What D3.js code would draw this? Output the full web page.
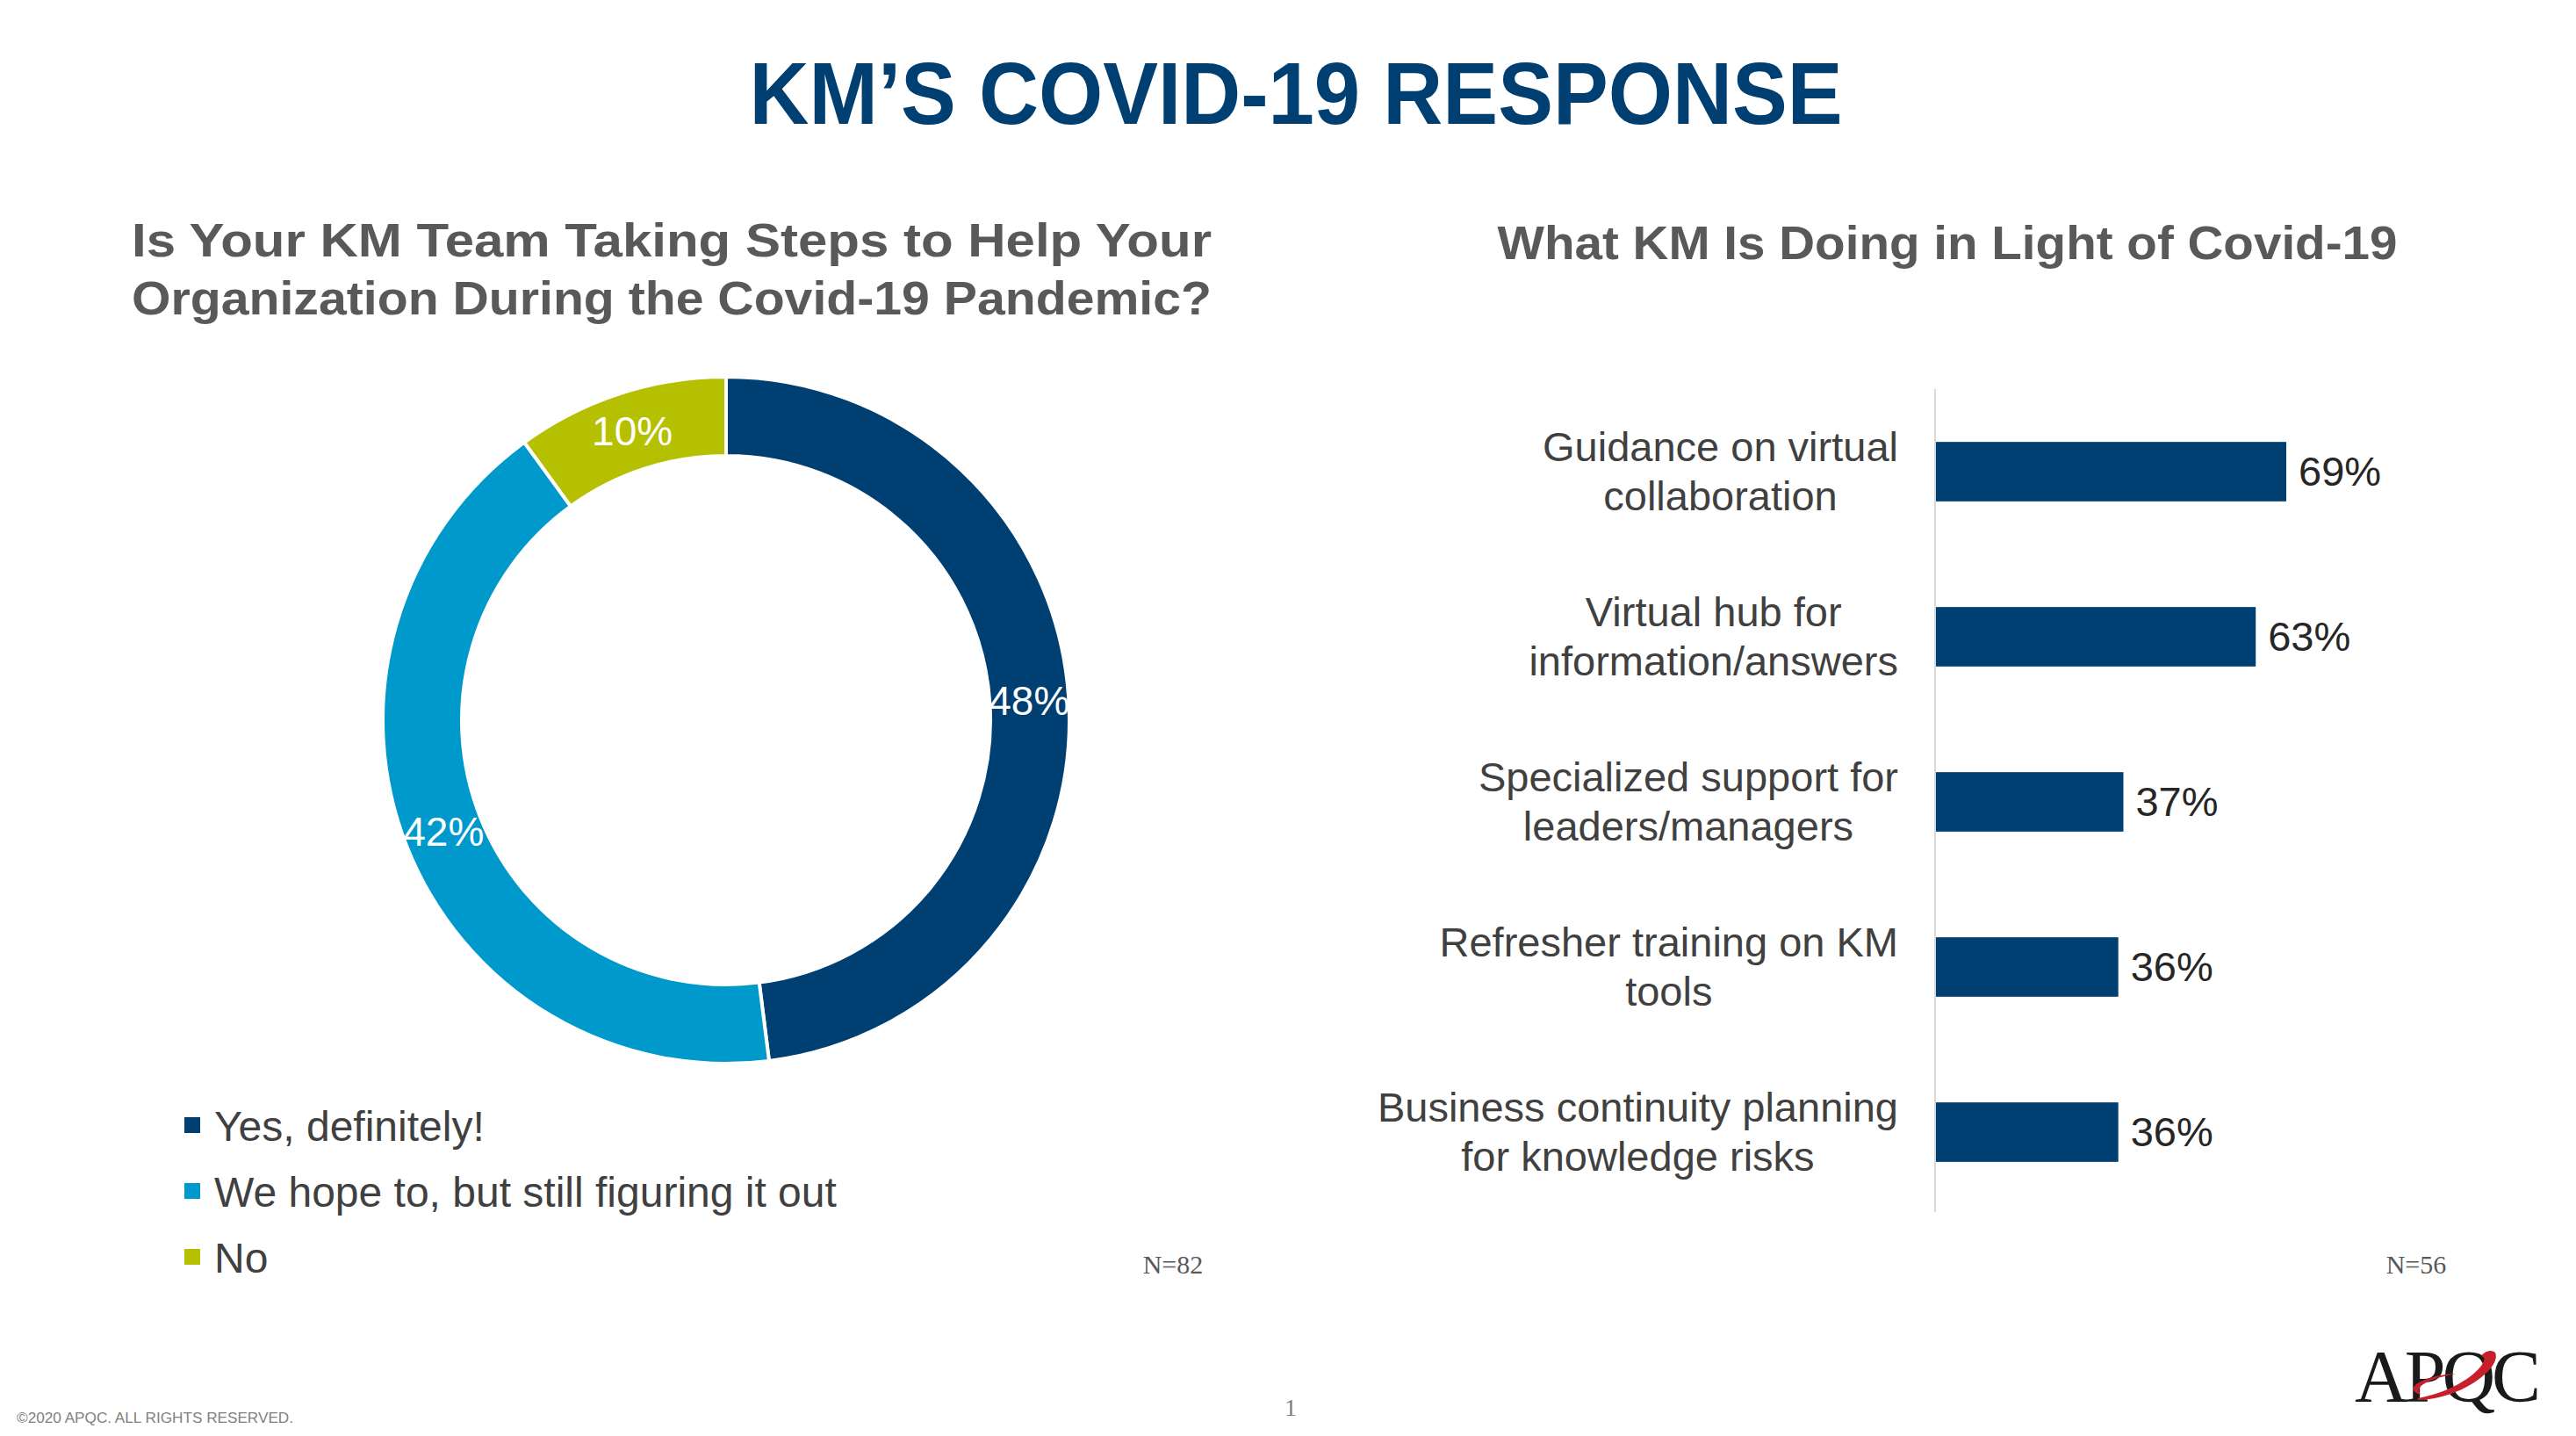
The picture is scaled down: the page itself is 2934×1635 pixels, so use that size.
<!DOCTYPE html>
<html><head><meta charset="utf-8">
<script src="https://cdn.jsdelivr.net/npm/d3@7"></script>
<style>body{margin:0;background:#fff}svg{display:block}</style></head>
<body><svg id="c" width="2934" height="1635"></svg>
<script>
const donutLabels = ["Yes, definitely!", "We hope to, but still figuring it out", "No"];
const donutValues = [48, 42, 10];
const donutColors = ["#003f72", "#0099cc", "#b5c000"];
const barCategories = [
  ["Guidance on virtual", "collaboration"],
  ["Virtual hub for", "information/answers"],
  ["Specialized support for", "leaders/managers"],
  ["Refresher training on KM", "tools"],
  ["Business continuity planning", "for knowledge risks"]
];
const barValues = [69, 63, 37, 36, 36];

const svg = d3.select("#c");
const sans = "'Liberation Sans',Arial,sans-serif";
const serif = "'Liberation Serif','Times New Roman',serif";

svg.append("text").attr("x",1476).attr("y",141).attr("text-anchor","middle")
  .attr("font-family",sans).attr("font-size",100).attr("font-weight","bold")
  .attr("fill","#003f72").attr("textLength",1245).attr("lengthAdjust","spacingAndGlyphs").text("KM’S COVID-19 RESPONSE");

[["Is Your KM Team Taking Steps to Help Your",292],["Organization During the Covid-19 Pandemic?",358]].forEach(([t,y])=>
  svg.append("text").attr("x",765).attr("y",y).attr("text-anchor","middle")
   .attr("font-family",sans).attr("font-size",54).attr("font-weight","bold").attr("fill","#595959")
   .attr("textLength",1230).attr("lengthAdjust","spacingAndGlyphs").text(t));
svg.append("text").attr("x",2218).attr("y",295).attr("text-anchor","middle")
   .attr("font-family",sans).attr("font-size",54).attr("font-weight","bold").attr("fill","#595959")
   .attr("textLength",1025).attr("lengthAdjust","spacingAndGlyphs").text("What KM Is Doing in Light of Covid-19");

// donut
const g = svg.append("g").attr("transform","translate(827,820)");
const pie = d3.pie().sort(null)(donutValues);
const arc = d3.arc().innerRadius(301).outerRadius(391);
g.selectAll("path").data(pie).join("path").attr("d",arc)
  .attr("fill",(d,i)=>donutColors[i]).attr("stroke","#fff").attr("stroke-width",4);
const lblArc = d3.arc().innerRadius(346).outerRadius(346);
g.selectAll("text").data(pie).join("text")
  .attr("transform",d=>{const c=lblArc.centroid(d); return `translate(${c[0]},${c[1]})`;})
  .attr("text-anchor","middle").attr("dy","0.35em")
  .attr("font-family",sans).attr("font-size",46).attr("fill","#fff")
  .text((d,i)=>donutValues[i]+"%");

// legend
donutLabels.forEach((t,i)=>{
  const y = 1282 + i*75;
  svg.append("rect").attr("x",210).attr("y",y-10).attr("width",18).attr("height",18).attr("fill",donutColors[i]);
  svg.append("text").attr("x",244).attr("y",y).attr("dy","0.35em").attr("font-family",sans)
    .attr("font-size",48).attr("fill","#404040").text(t);
});
svg.append("text").attr("x",1336).attr("y",1450).attr("text-anchor","middle").attr("font-family",serif)
  .attr("font-size",30).attr("fill","#595959").text("N=82");
svg.append("text").attr("x",2752).attr("y",1450).attr("text-anchor","middle").attr("font-family",serif)
  .attr("font-size",30).attr("fill","#595959").text("N=56");

// bars
const x = d3.scaleLinear().domain([0,69]).range([2204,2604]);
const y = d3.scaleBand().domain(barCategories.map((d,i)=>i)).range([443,1383]).paddingInner(0.64).paddingOuter(0.32);
svg.append("line").attr("x1",x(0)).attr("x2",x(0)).attr("y1",443).attr("y2",1380).attr("stroke","#d9d9d9").attr("stroke-width",2);
svg.selectAll("rect.bar").data(barValues).join("rect").attr("class","bar")
  .attr("x",x(0)+1).attr("y",(d,i)=>y(i)).attr("height",y.bandwidth()).attr("width",d=>x(d)-x(0)-1).attr("fill","#003f72");
svg.selectAll("text.val").data(barValues).join("text").attr("class","val")
  .attr("x",d=>x(d)+14).attr("y",(d,i)=>y(i)+y.bandwidth()/2).attr("dy","0.35em")
  .attr("font-family",sans).attr("font-size",47).attr("fill","#262626").text(d=>d+"%");
barCategories.forEach((lines,i)=>{
  const cy = y(i)+y.bandwidth()/2;
  const t = svg.append("text").attr("font-family",sans).attr("font-size",47).attr("fill","#404040").attr("text-anchor","middle");
  lines.forEach((l,k)=>t.append("tspan").attr("x",0).attr("y",cy + (k-0.5)*56).attr("dy","0.35em").text(l));
  const w = t.node().getBBox().width;
  t.selectAll("tspan").attr("x",2162 - w/2);
});

// footer
svg.append("text").attr("x",19).attr("y",1620).attr("font-family",sans).attr("font-size",17).attr("fill","#7f7f7f").attr("textLength",315).attr("lengthAdjust","spacingAndGlyphs").text("©2020 APQC. ALL RIGHTS RESERVED.");
svg.append("text").attr("x",1470).attr("y",1612).attr("text-anchor","middle").attr("font-family",serif).attr("font-size",28).attr("fill","#7f7f7f").text("1");
// logo
svg.append("text").attr("x",2682).attr("y",1596).attr("font-family",serif).attr("font-size",84).attr("fill","#1a1a1a").attr("letter-spacing",-4).text("APQC");
svg.append("path").attr("d","M2754,1594 C2800,1594 2850,1558 2842,1540 C2838,1536 2830,1538 2826,1544 C2840,1546 2810,1582 2754,1592 Z").attr("fill","#c8202a");
svg.append("path").attr("d","M2752,1586 C2737,1576 2777,1564 2797,1564 C2767,1570 2749,1578 2757,1588 Z").attr("fill","#c8202a");
</script></body></html>
